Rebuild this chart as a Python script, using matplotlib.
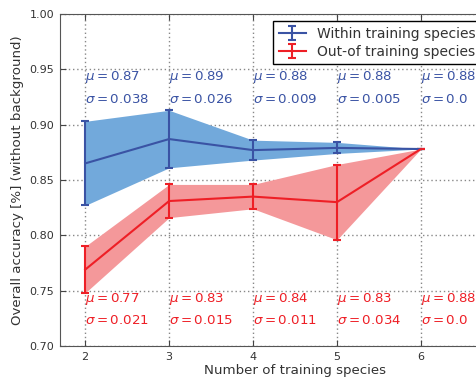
import matplotlib
matplotlib.use("Agg")
import matplotlib.pyplot as plt
import numpy as np

n_species = [2, 3, 4, 5, 6]
within_mean = [0.865, 0.887, 0.877, 0.879, 0.878]
within_std = [0.038, 0.026, 0.009, 0.005, 0.0]
out_mean = [0.769, 0.831, 0.835, 0.830, 0.878]
out_std = [0.021, 0.015, 0.011, 0.034, 0.0]
within_mu_lbl = ["0.87", "0.89", "0.88", "0.88", "0.88"]
within_sd_lbl = ["0.038", "0.026", "0.009", "0.005", "0.0"]
out_mu_lbl = ["0.77", "0.83", "0.84", "0.83", "0.88"]
out_sd_lbl = ["0.021", "0.015", "0.011", "0.034", "0.0"]

blue = "#3a53a4"
red = "#ee1f26"
blue_fill = "#72a9db"
red_fill = "#f4989a"
txt = "#333333"

fig = plt.figure(figsize=(4.76, 3.81), dpi=100)
ax = fig.add_axes([60/476, 35/381, 470/476, 332/381])

x = np.array(n_species)
wm, ws = np.array(within_mean), np.array(within_std)
om, os_ = np.array(out_mean), np.array(out_std)

ax.fill_between(x, wm - ws, wm + ws, color=blue_fill, lw=0, zorder=2)
ax.fill_between(x, om - os_, om + os_, color=red_fill, lw=0, zorder=2)
ax.errorbar(x, wm, yerr=ws, color=blue, lw=1.5, capsize=3, capthick=1.5,
            elinewidth=1.5, label="Within training species", zorder=3)
ax.errorbar(x, om, yerr=os_, color=red, lw=1.5, capsize=3, capthick=1.5,
            elinewidth=1.5, label="Out-of training species", zorder=3)

fs = 9.6
for xi, a, b in zip(n_species, within_mu_lbl, within_sd_lbl):
    ax.text(xi, 0.94, r"$\mu=$" + a, color=blue, fontsize=fs, va="baseline", ha="left")
    ax.text(xi, 0.92, r"$\sigma=$" + b, color=blue, fontsize=fs, va="baseline", ha="left")
for xi, a, b in zip(n_species, out_mu_lbl, out_sd_lbl):
    ax.text(xi, 0.74, r"$\mu=$" + a, color=red, fontsize=fs, va="baseline", ha="left")
    ax.text(xi, 0.72, r"$\sigma=$" + b, color=red, fontsize=fs, va="baseline", ha="left")

ax.set_xlim(1.7, 7.3)
ax.set_ylim(0.70, 1.00)
ax.set_xticks(n_species)
ax.set_yticks([0.70, 0.75, 0.80, 0.85, 0.90, 0.95, 1.00])
ax.set_yticklabels(["0.70", "0.75", "0.80", "0.85", "0.90", "0.95", "1.00"])
ax.grid(True, linestyle=(0, (1, 2)), color="#888888", lw=1)
ax.set_axisbelow(True)
ax.tick_params(direction="in", top=True, right=True, colors="#444444",
               labelcolor=txt, labelsize=8, length=4, pad=4)
for s in ax.spines.values():
    s.set_color("#555555")
ax.set_xlabel("Number of training species", color=txt, fontsize=9.6, labelpad=2)
ax.set_ylabel("Overall accuracy [%] (without background)", color=txt, fontsize=9.6,
              labelpad=4)

leg = ax.legend(loc="upper left", bbox_to_anchor=(273/476, 1 - 21/381),
                bbox_transform=fig.transFigure, borderaxespad=0,
                fontsize=10, fancybox=False, edgecolor="black",
                handlelength=2, framealpha=1, labelspacing=0.3)
for t in leg.get_texts():
    t.set_color(txt)
leg.get_frame().set_linewidth(1)

fig.savefig("out.png", dpi=100)
